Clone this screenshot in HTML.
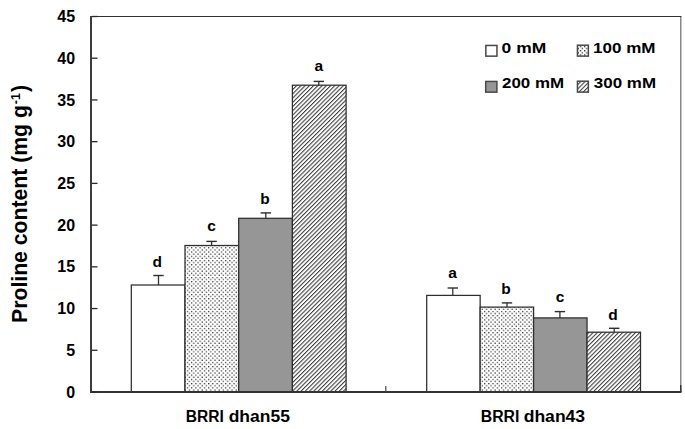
<!DOCTYPE html><html><head><meta charset="utf-8"><style>html,body{margin:0;padding:0;background:#fff;}svg{display:block;}text{font-family:"Liberation Sans",sans-serif;font-weight:bold;fill:#000;}</style></head><body>
<svg width="685" height="429" viewBox="0 0 685 429">
<defs>
<pattern id="dots" patternUnits="userSpaceOnUse" x="186.8" y="247.2" width="4.245" height="4.245"><rect x="0" y="0" width="4.245" height="4.245" fill="#fff"/><rect x="0" y="0" width="1.2" height="1.2" fill="#2a2a2a"/><rect x="2.1225" y="2.1225" width="1.2" height="1.2" fill="#2a2a2a"/></pattern>
<pattern id="ldots" patternUnits="userSpaceOnUse" x="579.75" y="45.85" width="4.245" height="4.245"><rect x="0" y="0" width="4.245" height="4.245" fill="#fff"/><rect x="0" y="0" width="1.3" height="1.3" fill="#222"/><rect x="2.1225" y="2.1225" width="1.3" height="1.3" fill="#222"/></pattern>
<pattern id="hatch" patternUnits="userSpaceOnUse" width="3.0017" height="20" patternTransform="translate(-0.54,0) rotate(45)"><rect x="0" y="0" width="3.0017" height="20" fill="#fff"/><rect x="0" y="0" width="1.05" height="20" fill="#3c3c3c"/></pattern>
</defs>
<rect width="685" height="429" fill="#fff"/>
<line x1="91" y1="16.5" x2="681.5" y2="16.5" stroke="#303030" stroke-width="1.2"/>
<line x1="680.8" y1="17" x2="680.8" y2="385" stroke="#6a6a6a" stroke-width="1.2"/>
<line x1="680.8" y1="385" x2="680.8" y2="392" stroke="#333" stroke-width="1.6"/>
<rect x="131.30" y="285.00" width="53.70" height="107.00" fill="#ffffff" stroke="#2e2e2e" stroke-width="1.25"/>
<line x1="158.50" y1="285.00" x2="158.50" y2="275.50" stroke="#333" stroke-width="1.3"/>
<line x1="153.30" y1="275.50" x2="163.70" y2="275.50" stroke="#2e2e2e" stroke-width="1.4"/>
<text x="157.25" y="266.90" font-size="15.5" text-anchor="middle">d</text>
<rect x="185.00" y="245.50" width="53.70" height="146.50" fill="url(#dots)" stroke="#2e2e2e" stroke-width="1.25"/>
<line x1="211.60" y1="245.50" x2="211.60" y2="241.40" stroke="#333" stroke-width="1.3"/>
<line x1="206.40" y1="241.40" x2="216.80" y2="241.40" stroke="#2e2e2e" stroke-width="1.4"/>
<text x="211.45" y="231.20" font-size="15.5" text-anchor="middle">c</text>
<rect x="238.70" y="218.30" width="53.70" height="173.70" fill="#969696" stroke="#2e2e2e" stroke-width="1.25"/>
<line x1="265.80" y1="218.30" x2="265.80" y2="212.90" stroke="#333" stroke-width="1.3"/>
<line x1="260.60" y1="212.90" x2="271.00" y2="212.90" stroke="#2e2e2e" stroke-width="1.4"/>
<text x="264.90" y="204.00" font-size="15.5" text-anchor="middle">b</text>
<rect x="292.40" y="85.20" width="53.70" height="306.80" fill="url(#hatch)" stroke="#2e2e2e" stroke-width="1.25"/>
<line x1="318.80" y1="85.20" x2="318.80" y2="81.40" stroke="#333" stroke-width="1.3"/>
<line x1="313.60" y1="81.40" x2="324.00" y2="81.40" stroke="#2e2e2e" stroke-width="1.4"/>
<text x="318.75" y="70.70" font-size="15.5" text-anchor="middle">a</text>
<rect x="426.70" y="295.40" width="53.45" height="96.60" fill="#ffffff" stroke="#2e2e2e" stroke-width="1.25"/>
<line x1="452.80" y1="295.40" x2="452.80" y2="288.00" stroke="#333" stroke-width="1.3"/>
<line x1="447.60" y1="288.00" x2="458.00" y2="288.00" stroke="#2e2e2e" stroke-width="1.4"/>
<text x="452.45" y="277.70" font-size="15.5" text-anchor="middle">a</text>
<rect x="480.15" y="307.10" width="53.45" height="84.90" fill="url(#dots)" stroke="#2e2e2e" stroke-width="1.25"/>
<line x1="507.00" y1="307.10" x2="507.00" y2="302.90" stroke="#333" stroke-width="1.3"/>
<line x1="501.80" y1="302.90" x2="512.20" y2="302.90" stroke="#2e2e2e" stroke-width="1.4"/>
<text x="506.10" y="294.00" font-size="15.5" text-anchor="middle">b</text>
<rect x="533.60" y="317.90" width="53.45" height="74.10" fill="#969696" stroke="#2e2e2e" stroke-width="1.25"/>
<line x1="559.90" y1="317.90" x2="559.90" y2="311.60" stroke="#333" stroke-width="1.3"/>
<line x1="554.70" y1="311.60" x2="565.10" y2="311.60" stroke="#2e2e2e" stroke-width="1.4"/>
<text x="560.00" y="302.30" font-size="15.5" text-anchor="middle">c</text>
<rect x="587.05" y="332.20" width="53.45" height="59.80" fill="url(#hatch)" stroke="#2e2e2e" stroke-width="1.25"/>
<line x1="614.20" y1="332.20" x2="614.20" y2="328.30" stroke="#333" stroke-width="1.3"/>
<line x1="609.00" y1="328.30" x2="619.40" y2="328.30" stroke="#2e2e2e" stroke-width="1.4"/>
<text x="613.00" y="319.90" font-size="15.5" text-anchor="middle">d</text>
<line x1="91" y1="16" x2="91" y2="393" stroke="#3c3c3c" stroke-width="2"/>
<line x1="90" y1="392" x2="681.5" y2="392" stroke="#333" stroke-width="2"/>
<line x1="92" y1="392.00" x2="97.5" y2="392.00" stroke="#2a2a2a" stroke-width="1.3"/>
<text x="75.1" y="397.60" font-size="16" text-anchor="end">0</text>
<line x1="92" y1="350.28" x2="97.5" y2="350.28" stroke="#2a2a2a" stroke-width="1.3"/>
<text x="75.1" y="355.88" font-size="16" text-anchor="end">5</text>
<line x1="92" y1="308.56" x2="97.5" y2="308.56" stroke="#2a2a2a" stroke-width="1.3"/>
<text x="75.1" y="314.16" font-size="16" text-anchor="end">10</text>
<line x1="92" y1="266.83" x2="97.5" y2="266.83" stroke="#2a2a2a" stroke-width="1.3"/>
<text x="75.1" y="272.43" font-size="16" text-anchor="end">15</text>
<line x1="92" y1="225.11" x2="97.5" y2="225.11" stroke="#2a2a2a" stroke-width="1.3"/>
<text x="75.1" y="230.71" font-size="16" text-anchor="end">20</text>
<line x1="92" y1="183.39" x2="97.5" y2="183.39" stroke="#2a2a2a" stroke-width="1.3"/>
<text x="75.1" y="188.99" font-size="16" text-anchor="end">25</text>
<line x1="92" y1="141.67" x2="97.5" y2="141.67" stroke="#2a2a2a" stroke-width="1.3"/>
<text x="75.1" y="147.27" font-size="16" text-anchor="end">30</text>
<line x1="92" y1="99.94" x2="97.5" y2="99.94" stroke="#2a2a2a" stroke-width="1.3"/>
<text x="75.1" y="105.54" font-size="16" text-anchor="end">35</text>
<line x1="92" y1="58.22" x2="97.5" y2="58.22" stroke="#2a2a2a" stroke-width="1.3"/>
<text x="75.1" y="63.82" font-size="16" text-anchor="end">40</text>
<line x1="92" y1="16.50" x2="97.5" y2="16.50" stroke="#2a2a2a" stroke-width="1.3"/>
<text x="75.1" y="22.10" font-size="16" text-anchor="end">45</text>
<line x1="385.8" y1="386" x2="385.8" y2="392" stroke="#444" stroke-width="1.2"/>
<text x="185.86" y="422.1" font-size="16" textLength="38.08" lengthAdjust="spacingAndGlyphs">BRRI</text>
<text x="228.68" y="422.1" font-size="16" textLength="61.2" lengthAdjust="spacingAndGlyphs">dhan55</text>
<text x="480.85" y="422.1" font-size="16" textLength="38.51" lengthAdjust="spacingAndGlyphs">BRRI</text>
<text x="523.68" y="422.1" font-size="16" textLength="61.45" lengthAdjust="spacingAndGlyphs">dhan43</text>
<text transform="translate(27.1,322.9) rotate(-90) scale(1,1.06)" font-size="21.2">Proline content (mg g</text>
<text transform="translate(20.2,104.2) rotate(-90)" font-size="12.5">-1</text>
<text transform="translate(27.1,92.0) rotate(-90) scale(1,1.06)" font-size="21.2">)</text>
<rect x="485.85" y="45.45" width="11.1" height="10.7" fill="#fff" stroke="#484848" stroke-width="1.5"/>
<rect x="577.45" y="45.2" width="10.9" height="10.9" fill="url(#ldots)" stroke="#484848" stroke-width="1.5"/>
<rect x="485.7" y="81.45" width="11.2" height="10.7" fill="#969696" stroke="#484848" stroke-width="1.5"/>
<rect x="577.45" y="81.2" width="10.9" height="10.9" fill="url(#hatch)" stroke="#484848" stroke-width="1.5"/>
<text x="501.61" y="53.1" font-size="15.3" textLength="44.56" lengthAdjust="spacingAndGlyphs">0 mM</text>
<text x="593.03" y="53.1" font-size="15.3" textLength="62.51" lengthAdjust="spacingAndGlyphs">100 mM</text>
<text x="502.01" y="88.4" font-size="15.3" textLength="62.02" lengthAdjust="spacingAndGlyphs">200 mM</text>
<text x="593.81" y="88.4" font-size="15.3" textLength="62.22" lengthAdjust="spacingAndGlyphs">300 mM</text>
</svg></body></html>
